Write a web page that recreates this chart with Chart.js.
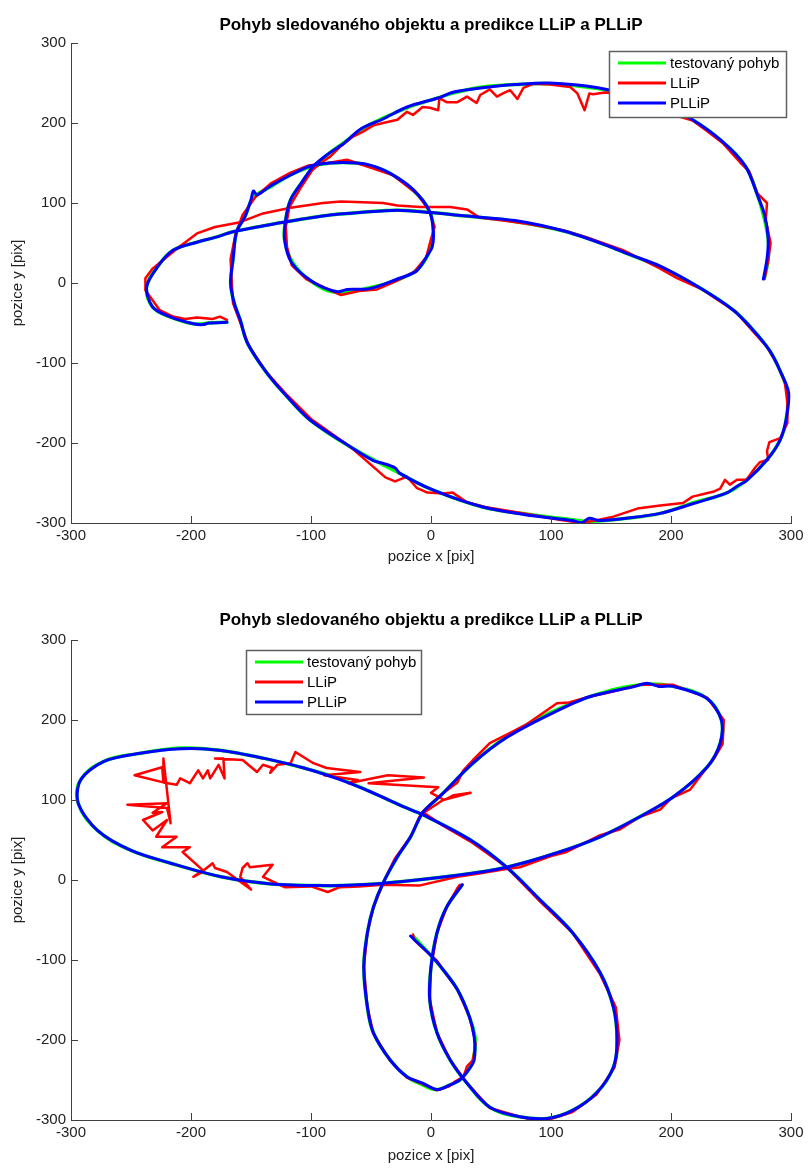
<!DOCTYPE html>
<html><head><meta charset="utf-8">
<script src="https://cdn.jsdelivr.net/npm/chart.js@4/dist/chart.umd.min.js"></script>
<style>
html,body{margin:0;padding:0;background:#fff;}
#wrap{position:relative;width:808px;height:1169px;}
canvas{position:absolute;left:0;}
</style></head>
<body>
<div id="wrap">
<canvas id="c1" width="808" height="590" style="top:0"></canvas>
<canvas id="c2" width="808" height="579" style="top:590px"></canvas>
</div>
<script>
// ---------- DATA ----------
const titleText = 'Pohyb sledovaného objektu a predikce LLiP a PLLiP';
const xLabel = 'pozice x [pix]';
const yLabel = 'pozice y [pix]';
const seriesNames = ['testovaný pohyb', 'LLiP', 'PLLiP'];
const axisMin = -300, axisMax = 300, axisStep = 100;

// Chart 1
const topTruth = [[278,7],[281,30],[281,55],[277,85],[272,110],[262,146],[241,179],[216,206],[196,220],[177,231],[139,243],[99,249],[70,248],[43,245],[20,238],[5,231],[-20,219],[-40,206],[-58,192],[-73,175],[-85,162],[-98,145],[-108,125],[-117,104],[-121,80],[-122,54],[-115,25],[-98,0],[-78,-12],[-51,-6],[-28,4],[-12,16],[-2,37],[2,62],[-1,89],[-15,116],[-34,137],[-50,146],[-62,150],[-84,150],[-101,145],[-117,135],[-134,120],[-148,107],[-155,83],[-162,64],[-165,29],[-167,0],[-164,-25],[-159,-46],[-153,-75],[-137,-112],[-120,-142],[-101,-171],[-67,-205],[-26,-238],[2,-259],[43,-280],[85,-290],[118,-296],[130,-298],[163,-294],[191,-288],[218,-275],[247,-262],[263,-246],[280,-221],[291,-196],[296,-170],[297,-137],[291,-110],[282,-84],[268,-58],[252,-34],[224,-6],[191,20],[163,37],[150,45],[113,64],[70,77],[27,84],[0,88],[-28,91],[-60,88],[-84,85],[-123,76],[-145,70],[-165,64],[-180,57],[-195,51],[-215,41],[-228,20],[-237,-5],[-232,-30],[-218,-42],[-198,-51],[-185,-50],[-170,-49]];
const topLLiP = [[278,5],[281,28],[283,50],[279,78],[280,100],[272,112],[265,140],[258,150],[243,175],[230,190],[218,203],[198,212],[178,228],[160,236],[145,238],[135,236],[132,237],[128,216],[122,237],[116,245],[99,248],[85,249],[77,244],[72,230],[66,241],[60,237],[55,233],[49,242],[41,235],[38,225],[30,233],[22,226],[13,226],[7,231],[6,216],[-1,219],[-7,220],[-15,210],[-20,214],[-28,204],[-40,200],[-48,197],[-57,189],[-65,183],[-76,170],[-84,158],[-92,150],[-99,141],[-109,118],[-118,95],[-121,70],[-120,45],[-116,22],[-104,5],[-90,-5],[-75,-15],[-60,-10],[-45,-8],[-28,3],[-14,14],[-4,32],[0,55],[3,70],[-2,92],[-12,112],[-32,135],[-50,144],[-70,154],[-86,150],[-102,147],[-117,138],[-133,125],[-146,108],[-157,85],[-163,60],[-167,30],[-166,0],[-165,-25],[-160,-45],[-152,-78],[-138,-110],[-120,-140],[-100,-170],[-67,-205],[-38,-243],[-30,-248],[-20,-242],[-12,-256],[-3,-262],[10,-263],[18,-262],[30,-274],[45,-280],[85,-290],[107,-296],[125,-300],[140,-296],[152,-292],[172,-282],[191,-278],[210,-275],[218,-267],[235,-261],[241,-257],[245,-246],[249,-252],[255,-246],[263,-246],[270,-231],[274,-224],[281,-221],[280,-210],[282,-199],[291,-194],[297,-175],[297,-150],[295,-125],[288,-100],[280,-80],[268,-60],[254,-36],[240,-22],[226,-8],[205,6],[191,18],[175,30],[160,41],[130,57],[110,66],[80,74],[60,78],[40,82],[30,92],[16,95],[-9,95],[-28,97],[-40,100],[-57,101],[-75,102],[-90,100],[-117,94],[-140,87],[-159,76],[-180,70],[-195,62],[-210,45],[-223,29],[-232,18],[-238,6],[-238,-9],[-226,-34],[-215,-42],[-205,-45],[-195,-43],[-182,-45],[-176,-42],[-170,-46]];
const topPLLiP = [[277,5],[280,30],[281,55],[278,85],[272,110],[262,146],[242,178],[216,206],[197,219],[177,230],[139,244],[99,250],[70,248],[43,244],[20,239],[5,231],[-20,220],[-40,205],[-58,193],[-73,174],[-85,162],[-98,146],[-108,125],[-117,104],[-121,80],[-122,54],[-116,25],[-98,1],[-78,-11],[-70,-8],[-51,-7],[-28,5],[-12,15],[-2,37],[1,45],[2,62],[-1,89],[-15,117],[-34,137],[-50,147],[-62,150],[-84,150],[-101,146],[-117,135],[-134,121],[-145,110],[-148,115],[-150,104],[-155,83],[-162,64],[-165,29],[-167,0],[-164,-25],[-159,-46],[-153,-75],[-137,-112],[-120,-142],[-101,-171],[-67,-205],[-48,-222],[-41,-225],[-30,-231],[-26,-238],[2,-259],[43,-280],[85,-291],[118,-297],[125,-300],[132,-294],[140,-297],[163,-294],[191,-288],[218,-276],[247,-262],[255,-254],[263,-247],[280,-221],[291,-196],[296,-170],[298,-137],[291,-110],[282,-84],[268,-58],[252,-34],[224,-6],[191,21],[163,37],[150,45],[113,64],[70,78],[27,84],[0,88],[-28,91],[-60,88],[-84,85],[-123,76],[-145,70],[-165,64],[-180,57],[-195,51],[-215,41],[-228,20],[-237,-5],[-232,-30],[-218,-42],[-198,-51],[-190,-52],[-185,-50],[-170,-49]];

// Chart 2
const botTruth = [[-15,-70],[1,-96],[10,-112],[22,-137],[32,-171],[37,-200],[35,-225],[31,-238],[24,-250],[16,-256],[5,-262],[-7,-256],[-20,-246],[-34,-225],[-48,-191],[-53,-159],[-56,-109],[-53,-66],[-48,-34],[-40,-4],[-28,29],[-17,54],[-7,84],[7,104],[35,146],[63,179],[99,209],[132,229],[174,244],[202,242],[230,227],[242,200],[241,171],[230,141],[202,104],[174,79],[141,54],[105,34],[63,16],[22,6],[-40,-4],[-76,-7],[-92,-7],[-133,-5],[-175,4],[-217,21],[-250,37],[-278,62],[-294,96],[-292,125],[-273,148],[-244,158],[-208,165],[-175,162],[-139,152],[-106,140],[-77,127],[-50,110],[-22,91],[-6,81],[33,50],[63,16],[91,-25],[118,-66],[141,-116],[152,-159],[155,-200],[152,-234],[138,-266],[118,-288],[97,-298],[74,-296],[49,-284],[30,-254],[16,-225],[5,-191],[-1,-150],[0,-109],[5,-66],[13,-34],[26,-6]];
const botLLiP = [[-15,-68],[-14,-75],[1,-96],[5,-101],[10,-112],[22,-137],[32,-171],[36,-196],[37,-205],[35,-225],[30,-233],[27,-246],[20,-252],[15,-258],[5,-263],[-7,-255],[-20,-247],[-34,-226],[-48,-192],[-53,-159],[-56,-109],[-53,-66],[-48,-34],[-40,-4],[-30,27],[-17,54],[-8,84],[7,105],[22,122],[27,137],[35,150],[49,171],[66,184],[80,195],[105,221],[115,222],[132,229],[150,235],[174,244],[202,244],[230,228],[244,200],[243,170],[235,150],[228,137],[216,113],[200,102],[191,88],[174,79],[157,63],[141,56],[113,35],[100,30],[74,16],[60,13],[40,8],[22,4],[-10,-7],[-40,-6],[-60,-8],[-76,-9],[-86,-15],[-100,-8],[-122,-9],[-140,4],[-132,19],[-151,16],[-153,21],[-157,15],[-159,4],[-150,-12],[-170,10],[-180,15],[-182,21],[-192,9],[-198,4],[-190,12],[-207,35],[-201,41],[-224,41],[-212,54],[-229,54],[-220,75],[-232,62],[-240,75],[-224,85],[-232,84],[-220,96],[-253,94],[-220,90],[-217,71],[-223,152],[-223,122],[-247,131],[-224,141],[-223,122],[-212,119],[-209,127],[-201,121],[-194,137],[-190,127],[-186,137],[-184,127],[-177,144],[-172,127],[-173,152],[-180,152],[-157,150],[-145,135],[-140,144],[-132,140],[-134,134],[-128,144],[-117,146],[-113,160],[-98,146],[-87,140],[-59,135],[-89,131],[-61,125],[-69,121],[-36,131],[-6,128],[-52,121],[6,116],[0,109],[11,100],[19,106],[33,109],[10,100],[-6,84],[10,68],[33,48],[50,30],[63,16],[91,-27],[118,-66],[141,-118],[154,-159],[157,-200],[153,-234],[138,-268],[118,-290],[97,-300],[80,-298],[74,-296],[49,-285],[30,-254],[16,-225],[5,-191],[-1,-150],[0,-109],[5,-66],[13,-34],[22,-10],[24,-6]];
const botPLLiP = [[-17,-70],[1,-96],[10,-112],[22,-137],[32,-171],[36,-196],[36,-225],[31,-238],[24,-250],[16,-256],[5,-262],[-7,-254],[-20,-246],[-34,-225],[-48,-191],[-53,-159],[-56,-109],[-53,-66],[-48,-34],[-40,-4],[-28,29],[-17,54],[-7,84],[7,104],[35,146],[63,178],[99,207],[132,229],[170,242],[180,246],[190,242],[202,242],[230,227],[242,200],[241,171],[230,141],[202,104],[174,79],[141,54],[105,34],[63,16],[22,6],[-40,-4],[-76,-7],[-92,-7],[-133,-5],[-175,4],[-217,21],[-250,37],[-278,62],[-294,96],[-292,125],[-273,148],[-244,158],[-208,164],[-175,162],[-139,152],[-106,140],[-77,126],[-50,110],[-22,91],[-6,81],[33,50],[63,16],[91,-25],[118,-66],[141,-116],[152,-159],[155,-200],[152,-234],[138,-266],[118,-288],[97,-298],[74,-296],[49,-284],[30,-254],[16,-225],[5,-191],[-1,-150],[0,-109],[5,-66],[13,-34],[26,-6]];

// ---------- STYLE ----------
const FONT = "'Liberation Sans', Arial, sans-serif";
const colors = ['#00ff00', '#ff0000', '#0000ff'];
const widths = [3.5, 2.5, 3];
const tensions = [0.4, 0, 0.3];
const orders = [3, 2, 1];

const toXY = arr => arr.map(p => ({x: p[0], y: p[1]}));

const decor = {
  id: 'decor',
  afterDraw(chart, args, opts) {
    const ctx = chart.ctx, area = chart.chartArea;
    const xs = chart.scales.x, ys = chart.scales.y;
    ctx.save();
    ctx.strokeStyle = '#404040'; ctx.lineWidth = 1;
    xs.ticks.forEach(t => {
      const px = Math.round(xs.getPixelForValue(t.value)) + 0.5;
      ctx.beginPath(); ctx.moveTo(px, area.bottom); ctx.lineTo(px, area.bottom - 7); ctx.stroke();
    });
    ys.ticks.forEach(t => {
      const py = Math.round(ys.getPixelForValue(t.value)) + 0.5;
      ctx.beginPath(); ctx.moveTo(area.left, py); ctx.lineTo(area.left + 7, py); ctx.stroke();
    });
    const L = opts.legend;
    const bx = area.left + L.dx, by = area.top + L.dy;
    ctx.fillStyle = '#fff';
    ctx.fillRect(bx, by, L.w, L.h);
    ctx.strokeStyle = '#606060'; ctx.lineWidth = 1.5;
    ctx.strokeRect(bx + 0.5, by + 0.5, L.w, L.h);
    chart.data.datasets.forEach((ds, i) => {
      const ry = by + 12 + i * 20;
      ctx.strokeStyle = ds.borderColor; ctx.lineWidth = 3;
      ctx.beginPath(); ctx.moveTo(bx + 9, ry); ctx.lineTo(bx + 57, ry); ctx.stroke();
      ctx.fillStyle = '#000'; ctx.font = '15px ' + FONT;
      ctx.textAlign = 'left'; ctx.textBaseline = 'middle';
      ctx.fillText(ds.label, bx + 61, ry + 1);
    });
    ctx.restore();
  }
};

function makeChart(id, series, lay) {
  return new Chart(document.getElementById(id), {
    type: 'scatter',
    data: {
      datasets: series.map((s, i) => ({
        label: seriesNames[i],
        data: toXY(s),
        showLine: true,
        borderColor: colors[i],
        backgroundColor: colors[i],
        borderWidth: widths[i],
        pointRadius: 0,
        tension: tensions[i],
        order: orders[i],
        borderJoinStyle: 'round',
        borderCapStyle: 'round'
      }))
    },
    options: {
      responsive: false,
      animation: false,
      devicePixelRatio: 1,
      layout: {padding: {left: 0, right: 17, top: 0, bottom: 0}},
      plugins: {
        legend: {display: false},
        tooltip: {enabled: false},
        title: {
          display: true, text: titleText, fullSize: false, color: '#000',
          font: {family: FONT, size: 17, weight: 'bold'},
          padding: {top: lay.titleTop, bottom: lay.titleBottom}
        },
        decor: {legend: lay.legend}
      },
      scales: {
        x: {
          type: 'linear', min: axisMin, max: axisMax,
          ticks: {stepSize: axisStep, color: '#222', font: {family: FONT, size: 15}, padding: 4, maxRotation: 0},
          grid: {display: false, drawTicks: false},
          border: {display: true, color: '#404040', width: 1},
          title: {display: true, text: xLabel, color: '#222', font: {family: FONT, size: 15}, padding: {top: 0, bottom: lay.xTitlePad}},
          afterFit: s => { s.height = lay.xHeight; }
        },
        y: {
          type: 'linear', min: axisMin, max: axisMax,
          ticks: {stepSize: axisStep, color: '#222', font: {family: FONT, size: 15}, padding: 5},
          grid: {display: false, drawTicks: false},
          border: {display: true, color: '#404040', width: 1},
          title: {display: true, text: yLabel, color: '#222', font: {family: FONT, size: 15}, padding: {top: 9, bottom: 0}},
          afterFit: s => { s.width = 71; }
        }
      }
    },
    plugins: [decor]
  });
}

makeChart('c1', [topTruth, topLLiP, topPLLiP], {
  titleTop: 15, titleBottom: 7.6, xHeight: 67, xTitlePad: 24,
  legend: {dx: 538, dy: 8, w: 177, h: 66}
});
makeChart('c2', [botTruth, botLLiP, botPLLiP], {
  titleTop: 19.8, titleBottom: 9.8, xHeight: 49, xTitlePad: 4,
  legend: {dx: 175, dy: 10, w: 175, h: 64}
});
</script>
</body></html>
